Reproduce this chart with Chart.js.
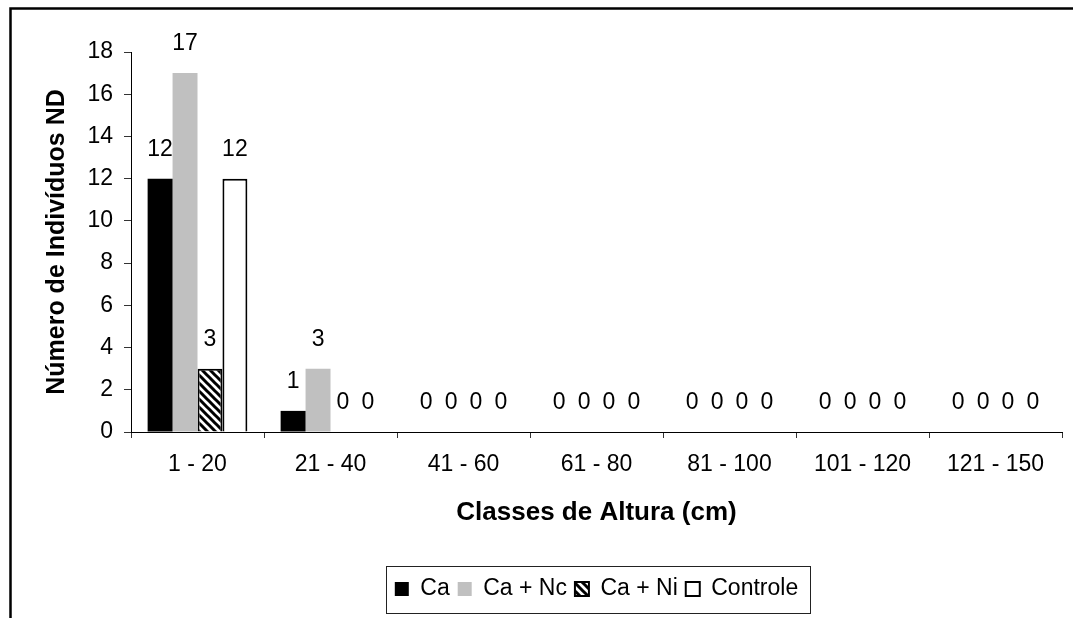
<!DOCTYPE html>
<html lang="pt-br">
<head>
    <meta charset="UTF-8">
    <title>Classes de Altura</title>
    <script src="https://cdn.jsdelivr.net/npm/chart.js"></script>
    <style>
        body { margin: 0; background: #fff; }
        canvas { display: block; }
    </style>
</head>
<body>

    <canvas id="chartAltura" width="1073" height="618"></canvas>

<script>

    // Dados --------------------------------------------------------------
    const classes = ['1 - 20', '21 - 40', '41 - 60', '61 - 80', '81 - 100', '101 - 120', '121 - 150']
    const ca       = [12, 1, 0, 0, 0, 0, 0]
    const caNc     = [17, 3, 0, 0, 0, 0, 0]
    const caNi     = [3, 0, 0, 0, 0, 0, 0]
    const controle = [12, 0, 0, 0, 0, 0, 0]

    const yMin = 0
    const yMax = 18
    const yStep = 2

    Chart.defaults.font.family = '"Liberation Sans", Arial, sans-serif'
    Chart.defaults.color = '#000'

    // Hachura diagonal para "Ca + Ni"
    function hachura() {
        const c = document.createElement('canvas')
        c.width = 8
        c.height = 8
        const g = c.getContext('2d')
        g.fillStyle = '#fff'
        g.fillRect(0, 0, 8, 8)
        g.strokeStyle = '#000'
        g.lineWidth = 3
        g.beginPath()
        g.moveTo(-2, -2); g.lineTo(10, 10)
        g.moveTo(-2, 6); g.lineTo(4, 12)
        g.moveTo(4, -4); g.lineTo(12, 4)
        g.stroke()
        return g.createPattern(c, 'repeat')
    }

    // Moldura, rótulos das barras e caixa da legenda
    const extras = {
        id: 'extras',
        beforeDraw(chart) {
            const ctx = chart.ctx
            ctx.save()
            ctx.strokeStyle = '#000'
            ctx.lineWidth = 2.5
            ctx.strokeRect(10.5, 8.5, 2000, 2000)
            ctx.restore()
        },
        afterDatasetsDraw(chart) {
            const ctx = chart.ctx
            ctx.save()
            ctx.font = '23px "Liberation Sans", Arial, sans-serif'
            ctx.fillStyle = '#000'
            ctx.textAlign = 'center'
            ctx.textBaseline = 'middle'
            chart.data.datasets.forEach(function (ds, i) {
                chart.getDatasetMeta(i).data.forEach(function (bar, j) {
                    ctx.fillText(ds.data[j], bar.x, bar.y - 29)
                })
            })
            ctx.restore()
        },
        afterDraw(chart) {
            const boxes = chart.legend.legendHitBoxes
            if (!boxes || !boxes.length) return
            const first = boxes[0]
            const last = boxes[boxes.length - 1]
            const cy = first.top + first.height / 2
            const x1 = Math.round(first.left - 9) + 0.5
            const x2 = Math.round(last.left + last.width + 12) + 0.5
            const ctx = chart.ctx
            ctx.save()
            ctx.strokeStyle = '#222'
            ctx.lineWidth = 1
            ctx.strokeRect(x1, Math.round(cy - 23) + 0.5, x2 - x1, 47)
            ctx.restore()
        }
    }

    const dataAltura = {
        labels: classes,
        datasets: [
            { label: 'Ca', data: ca, backgroundColor: '#000', borderColor: '#000', borderWidth: 0 },
            { label: 'Ca + Nc', data: caNc, backgroundColor: '#c0c0c0', borderColor: '#c0c0c0', borderWidth: 0 },
            { label: 'Ca + Ni', data: caNi, backgroundColor: hachura(), borderColor: '#000', borderWidth: 2 },
            { label: 'Controle', data: controle, backgroundColor: '#fff', borderColor: '#000', borderWidth: 2 }
        ]
    }

    const configAltura = {
        type: 'bar',
        data: dataAltura,
        options: {
            responsive: false,
            animation: false,
            categoryPercentage: 0.75,
            barPercentage: 1.0,
            layout: { padding: { top: 52, right: 11, bottom: 7.5, left: 0 } },
            plugins: {
                tooltip: { enabled: false },
                legend: {
                    position: 'bottom',
                    fullSize: false,
                    labels: { boxWidth: 14, boxHeight: 14, padding: 8, font: { size: 23 } }
                }
            },
            scales: {
                x: {
                    ticks: { font: { size: 23 }, padding: 13, maxRotation: 0 },
                    grid: { drawOnChartArea: false, drawTicks: true, tickLength: 6, color: '#333', offset: true },
                    border: { display: true, color: '#000', width: 1 },
                    title: {
                        display: true,
                        text: 'Classes de Altura (cm)',
                        font: { size: 26, weight: 'bold' },
                        padding: { top: 0, bottom: 41.5 }
                    },
                    afterFit(scale) { scale.height = 137.5 }
                },
                y: {
                    min: yMin,
                    max: yMax,
                    ticks: { stepSize: yStep, font: { size: 23 }, padding: 11 },
                    grid: { drawOnChartArea: false, drawTicks: true, tickLength: 7, color: '#333' },
                    border: { display: true, color: '#000', width: 1 },
                    title: {
                        display: true,
                        text: 'Número de Indivíduos ND',
                        font: { size: 25, weight: 'bold' },
                        padding: { top: 42, bottom: 0 }
                    },
                    afterFit(scale) { scale.width = 131 }
                }
            }
        },
        plugins: [extras]
    }

    new Chart(document.getElementById('chartAltura'), configAltura)

</script>
</body>
</html>
